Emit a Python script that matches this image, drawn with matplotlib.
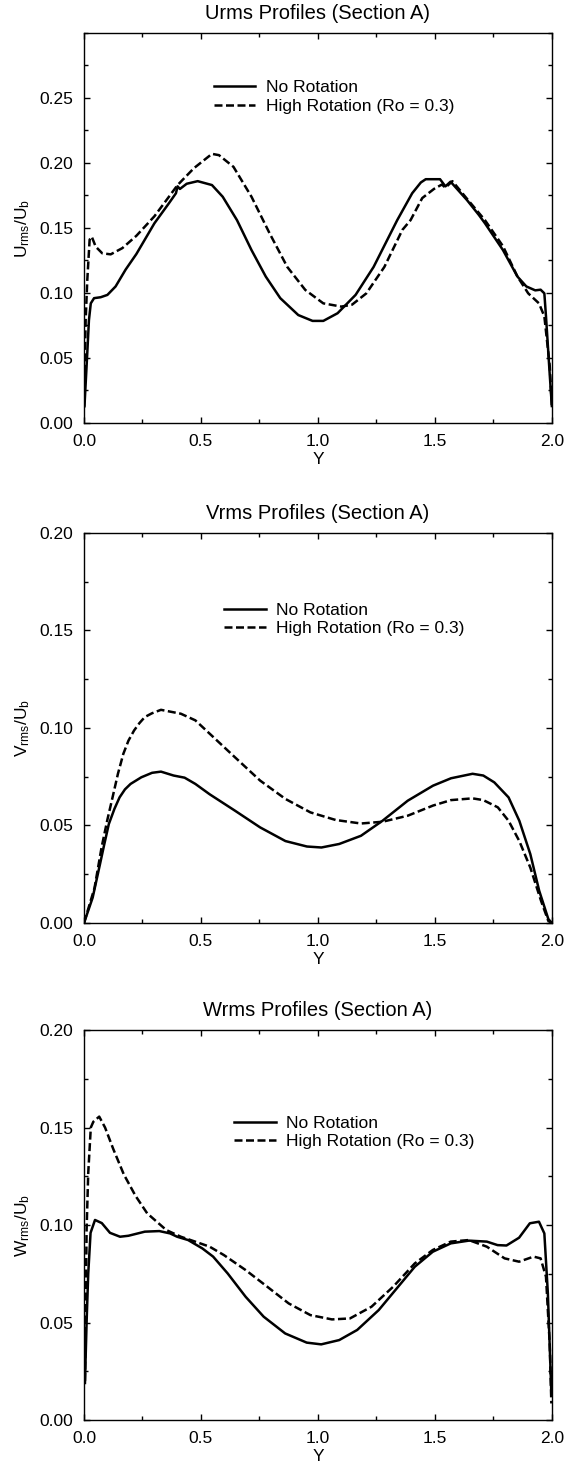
import matplotlib
matplotlib.use('Agg')
import matplotlib.pyplot as plt
from matplotlib.ticker import MultipleLocator, FormatStrFormatter

plt.rcParams['font.family'] = ['Liberation Sans', 'DejaVu Sans']
plt.rcParams['mathtext.fontset'] = 'custom'
plt.rcParams['mathtext.rm'] = 'Liberation Sans'
plt.rcParams['mathtext.it'] = 'Liberation Sans'

# --- Urms, section A ---
u_no_y = [0.0, 0.002, 0.014, 0.021, 0.029, 0.043, 0.071, 0.10, 0.135, 0.178, 0.224, 0.301,
          0.363, 0.393, 0.40, 0.41, 0.439, 0.486, 0.547, 0.593, 0.654, 0.716, 0.777, 0.839,
          0.916, 0.977, 1.023, 1.084, 1.161, 1.238, 1.339, 1.403, 1.44, 1.461, 1.522, 1.545,
          1.567, 1.637, 1.688, 1.714, 1.791, 1.853, 1.891, 1.929, 1.952, 1.968, 1.975, 1.99, 2.0]
u_no = [0.012, 0.013, 0.054, 0.079, 0.092, 0.096, 0.0967, 0.0985, 0.105, 0.118, 0.130, 0.1536,
        0.169, 0.1767, 0.182, 0.180, 0.184, 0.186, 0.183, 0.174, 0.156, 0.133, 0.1126, 0.096,
        0.083, 0.0785, 0.0785, 0.0844, 0.0985, 0.120, 0.156, 0.1767, 0.185, 0.1875, 0.1875, 0.182,
        0.1856, 0.1715, 0.160, 0.1536, 0.133, 0.1126, 0.105, 0.102, 0.1025, 0.0997, 0.082, 0.04, 0.013]
u_hi_y = [0.0, 0.007, 0.014, 0.024, 0.033, 0.05, 0.078, 0.114, 0.164, 0.224, 0.26, 0.301, 0.363,
          0.40, 0.47, 0.547, 0.577, 0.639, 0.716, 0.793, 0.869, 0.946, 1.023, 1.10, 1.146,
          1.207, 1.284, 1.361, 1.396, 1.446, 1.496, 1.53, 1.545, 1.575, 1.637, 1.714, 1.791,
          1.853, 1.899, 1.945, 1.968, 1.991, 2.0]
u_hi = [0.012, 0.079, 0.11, 0.141, 0.1433, 0.1356, 0.1305, 0.1297, 0.1345, 0.144, 0.151, 0.159, 0.174,
        0.183, 0.196, 0.207, 0.206, 0.197, 0.174, 0.146, 0.120, 0.1023, 0.092, 0.0895, 0.091,
        0.0997, 0.120, 0.1485, 0.156, 0.173, 0.180, 0.1834, 0.181, 0.186, 0.1725, 0.156, 0.136,
        0.1126, 0.0997, 0.092, 0.082, 0.044, 0.013]

# --- Vrms, section A ---
v_no_y = [0.0, 0.037, 0.068, 0.086, 0.106, 0.13, 0.152, 0.175, 0.199, 0.245, 0.291, 0.329,
          0.383, 0.43, 0.476, 0.537, 0.645, 0.753, 0.861, 0.953, 1.015, 1.091, 1.184, 1.276,
          1.384, 1.492, 1.569, 1.661, 1.707, 1.754, 1.815, 1.861, 1.908, 1.946, 1.985, 2.0]
v_no = [0.0, 0.013, 0.030, 0.040, 0.0507, 0.0585, 0.0644, 0.0685, 0.0713, 0.0747, 0.077, 0.0776,
        0.0756, 0.0745, 0.0713, 0.066, 0.0576, 0.049, 0.042, 0.0392, 0.0387, 0.0405, 0.0447, 0.0524,
        0.0627, 0.0704, 0.0742, 0.0765, 0.0756, 0.0721, 0.0644, 0.0524, 0.0353, 0.0165, 0.002, 0.0]
v_hi_y = [0.0, 0.045, 0.075, 0.10, 0.122, 0.145, 0.168, 0.19, 0.214, 0.237, 0.26, 0.29, 0.329,
          0.414, 0.476, 0.553, 0.645, 0.753, 0.861, 0.968, 1.076, 1.184, 1.276, 1.384, 1.492,
          1.569, 1.661, 1.707, 1.769, 1.815, 1.861, 1.908, 1.954, 1.985, 2.0]
v_hi = [0.0, 0.018, 0.0387, 0.053, 0.0644, 0.0765, 0.0867, 0.0935, 0.0987, 0.1025, 0.1056, 0.1075,
        0.1093, 0.1073, 0.1039, 0.0953, 0.085, 0.073, 0.0636, 0.0567, 0.0528, 0.051, 0.0519, 0.055,
        0.0602, 0.063, 0.0639, 0.063, 0.0593, 0.0524, 0.042, 0.0284, 0.0113, 0.001, 0.0]

# --- Wrms, section A ---
w_no_y = [0.004, 0.011, 0.018, 0.028, 0.047, 0.076, 0.111, 0.154, 0.19, 0.26, 0.322, 0.368,
          0.398, 0.445, 0.506, 0.552, 0.614, 0.691, 0.768, 0.86, 0.952, 1.014, 1.091, 1.168,
          1.26, 1.337, 1.414, 1.491, 1.568, 1.645, 1.722, 1.768, 1.806, 1.86, 1.906, 1.945,
          1.968, 1.983, 1.998]
w_no = [0.019, 0.05, 0.075, 0.096, 0.1026, 0.101, 0.096, 0.094, 0.0945, 0.0966, 0.0969, 0.0957,
        0.094, 0.0923, 0.088, 0.0838, 0.0752, 0.0632, 0.053, 0.0444, 0.0397, 0.0388, 0.041, 0.0462,
        0.0564, 0.0675, 0.0786, 0.0863, 0.0906, 0.092, 0.0915, 0.0897, 0.0895, 0.0935, 0.1009, 0.1017,
        0.0957, 0.065, 0.0137]
w_hi_y = [0.004, 0.011, 0.018, 0.029, 0.04, 0.065, 0.09, 0.125, 0.17, 0.22, 0.27, 0.352,
          0.414, 0.475, 0.537, 0.598, 0.691, 0.783, 0.875, 0.968, 1.06, 1.137, 1.229, 1.322,
          1.414, 1.491, 1.568, 1.645, 1.722, 1.798, 1.86, 1.922, 1.952, 1.975, 1.991, 1.998]
w_hi = [0.02, 0.0974, 0.1266, 0.150, 0.153, 0.1556, 0.150, 0.139, 0.126, 0.115, 0.106, 0.0974,
        0.094, 0.0915, 0.0889, 0.0846, 0.0769, 0.0684, 0.0598, 0.0538, 0.0516, 0.0521, 0.0581, 0.0684,
        0.0803, 0.0872, 0.0915, 0.0923, 0.0889, 0.0829, 0.0812, 0.0838, 0.0829, 0.0735, 0.039, 0.0085]

titles = ['Urms Profiles (Section A)', 'Vrms Profiles (Section A)', 'Wrms Profiles (Section A)']
ylabels = [r'$\mathregular{U_{rms}/U_b}$', r'$\mathregular{V_{rms}/U_b}$', r'$\mathregular{W_{rms}/U_b}$']
labels = ['No Rotation', 'High Rotation (Ro = 0.3)']
ymax = [0.30, 0.20, 0.20]
ytop_label = [0.25, 0.20, 0.20]

data = [(u_no_y, u_no, u_hi_y, u_hi),
        (v_no_y, v_no, v_hi_y, v_hi),
        (w_no_y, w_no, w_hi_y, w_hi)]

# axes placement (figure fractions) and legend anchors (axes fractions)
bottoms = [0.7113, 0.370, 0.0307]
leg_pos = [(0.277, 0.8365), (0.299, 0.778), (0.3205, 0.737)]

fig = plt.figure(figsize=(5.65, 14.65), dpi=100)

for i in range(3):
    ax = fig.add_axes([0.1487, bottoms[i], 0.828, 0.2662])
    xs, ys, xh, yh = data[i]
    ax.plot(xs, ys, color='black', lw=1.8, label=labels[0])
    ax.plot(xh, yh, color='black', lw=1.8, dashes=(3.2, 1.4), label=labels[1])

    ax.set_xlim(0, 2)
    ax.set_ylim(0, ymax[i])
    ax.xaxis.set_major_locator(MultipleLocator(0.5))
    ax.xaxis.set_minor_locator(MultipleLocator(0.25))
    ax.yaxis.set_major_locator(MultipleLocator(0.05))
    ax.yaxis.set_minor_locator(MultipleLocator(0.025))
    ax.xaxis.set_major_formatter(FormatStrFormatter('%.1f'))
    ax.yaxis.set_major_formatter(FormatStrFormatter('%.2f'))
    if ytop_label[i] < ymax[i]:
        # top of the U panel is left without a label
        ax.set_yticks([t * 0.05 for t in range(6)])
        ax.set_ylim(0, ymax[i])

    ax.tick_params(which='both', direction='in', top=True, right=True, labelsize=12.5, pad=8, width=1)
    ax.tick_params(which='major', length=4.5)
    ax.tick_params(which='minor', length=2.8)
    for s in ax.spines.values():
        s.set_linewidth(1.0)

    ax.set_title(titles[i], fontsize=14.5, pad=10)
    ax.set_xlabel('Y', fontsize=12.5, labelpad=2)
    ax.set_ylabel(ylabels[i], fontsize=12.5, labelpad=5)

    ax.legend(loc='center left', bbox_to_anchor=leg_pos[i], frameon=False, fontsize=12.5,
              borderpad=0, borderaxespad=0, handlelength=2.4, handletextpad=0.6,
              labelspacing=0.2)

fig.savefig('out.png', dpi=100)
